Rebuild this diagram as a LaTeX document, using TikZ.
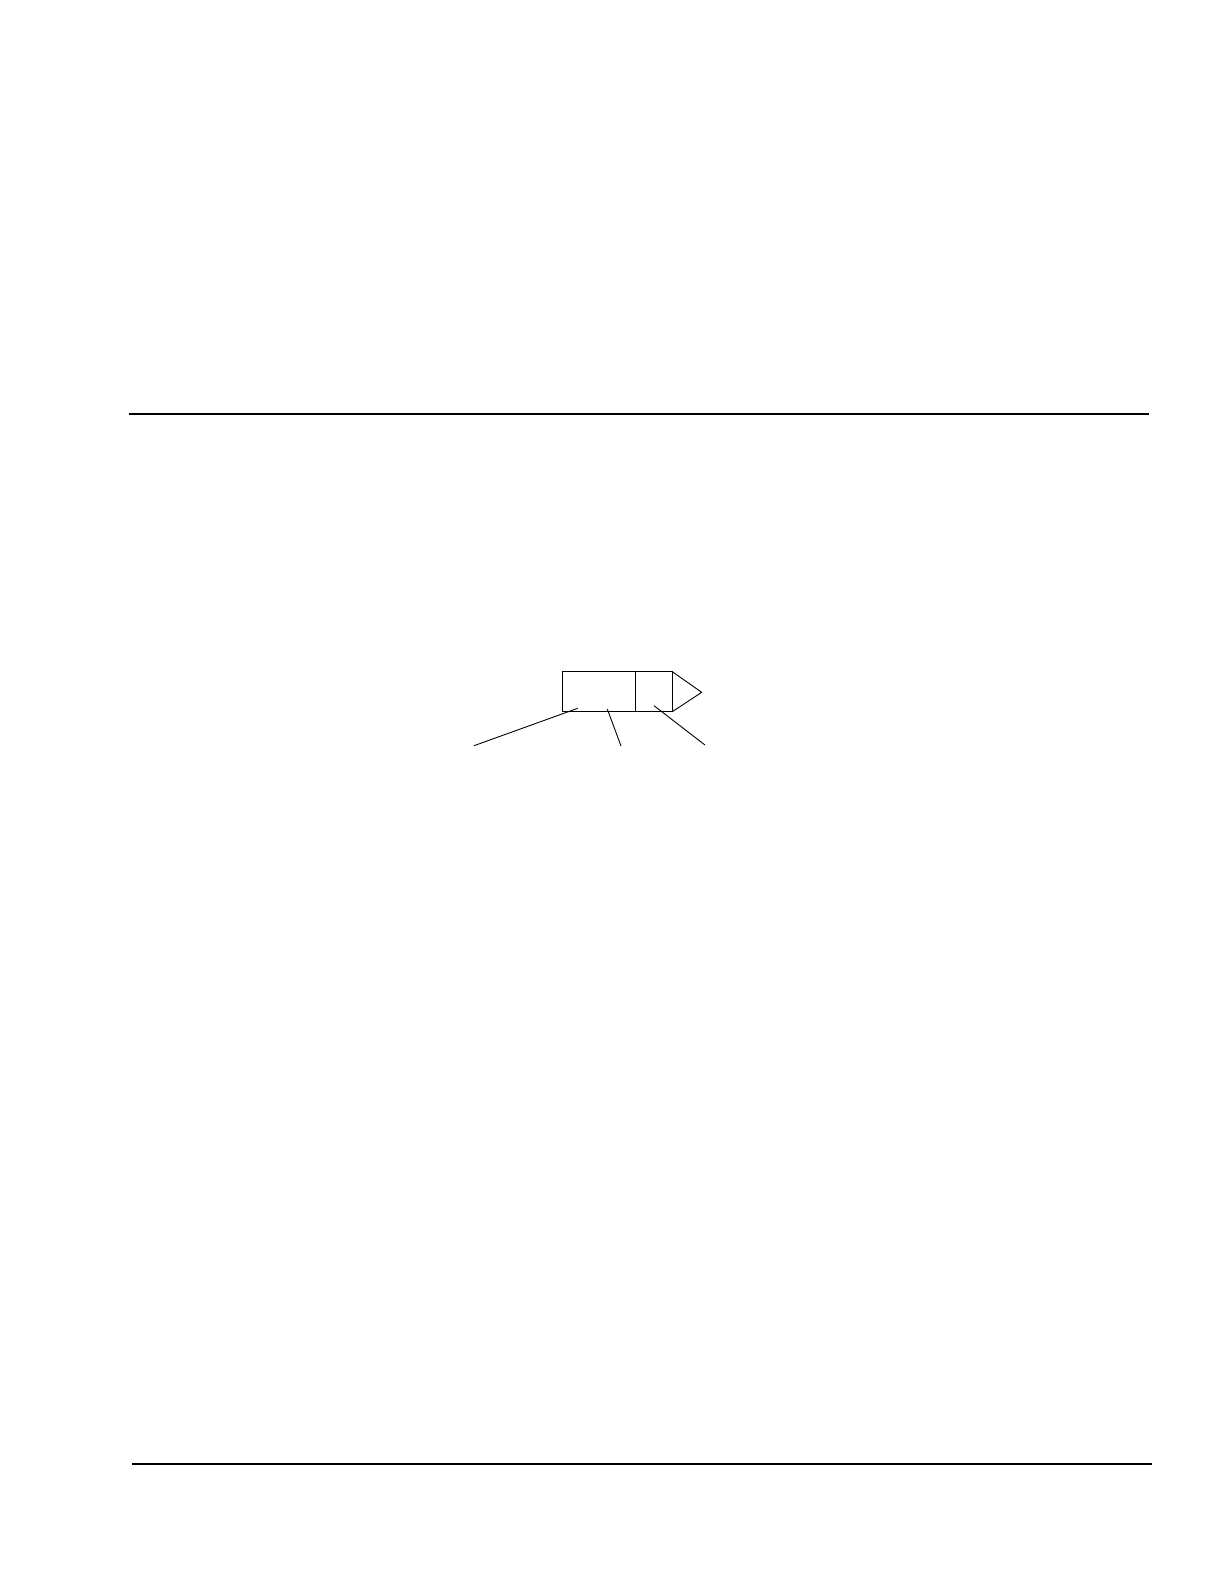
\documentclass[tikz,border=0pt]{standalone}
\usepackage{tikz}
\usetikzlibrary{positioning}
\tikzset{
  cell/.style={draw, line width=0.65bp, inner sep=0pt, outer sep=0pt, minimum height=20bp},
  leader/.style={line width=0.45bp},
  pagerule/.style={line width=1.1bp}
}
\begin{document}
\begin{tikzpicture}[x=0.5bp, y=-0.5bp]
    \useasboundingbox (0,0) rectangle (1224,1584);

    % Draw page rules
    \coordinate (topL) at (129,413.7);
    \coordinate (topR) at (1149,413.7);
    \coordinate (botL) at (132,1464.3);
    \coordinate (botR) at (1152,1464.3);
    \draw[pagerule] (topL) -- (topR);
    \draw[pagerule] (botL) -- (botR);

    % Body and cap of the marker
    \node[cell, minimum width=36.5bp, anchor=north west] (body) at (562.3,671.7) {};
    \node[cell, minimum width=18.5bp, right=0pt of body] (cap) {};

    % Pointed end
    \coordinate (tip) at (701.7,692.3);
    \draw[leader] (cap.north east) -- (tip) -- (cap.south east);

    % Leader lines
    \coordinate (footA) at (474,745.7);
    \coordinate (footB) at (621,746);
    \coordinate (footC) at (705,745);
    \coordinate (headA) at (577.7,708.3);
    \coordinate (headB) at (607.3,709);
    \coordinate (headC) at (654,705.7);
    \foreach \k in {A,B,C} {
        \draw[leader] (foot\k) -- (head\k);
    }
\end{tikzpicture}
\end{document}
